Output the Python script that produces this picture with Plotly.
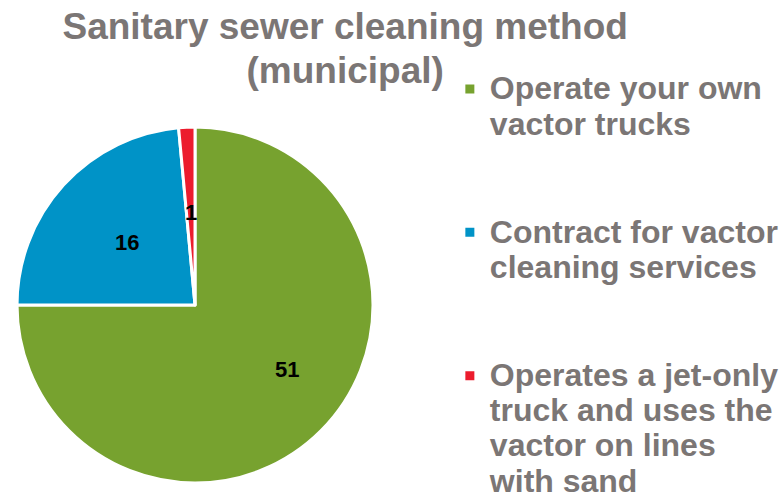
import math
import plotly.graph_objects as go

title_lines = ["Sanitary sewer cleaning method", "(municipal)"]
categories = [
    ["Operate your own", "vactor trucks"],
    ["Contract for vactor", "cleaning services"],
    ["Operates a jet-only", "truck and uses the", "vactor on lines", "with sand"],
]
values = [51, 16, 1]
colors = ["#77A22F", "#0093C7", "#EC1C2D"]
text_gray = "#7B7675"

W, H = 781, 499
dom_x = [0.0218, 0.4776]
dom_y = [0.028, 0.7495]


def span_lines(lines, size, extra_blank=0):
    out = ['<span style="font-size:%dpx">%s</span>' % (size, l) for l in lines]
    out += [" "] * extra_blank
    return "<br>".join(out)


labels = [span_lines(c, 32, 2 if i < 2 else 0) for i, c in enumerate(categories)]

fig = go.Figure(
    go.Pie(
        labels=labels,
        values=values,
        marker=dict(colors=colors, line=dict(color="white", width=3)),
        sort=False,
        direction="clockwise",
        rotation=0,
        textinfo="none",
        domain=dict(x=dom_x, y=dom_y),
        hoverinfo="label+value",
    )
)

# value labels placed inside each slice, at an angle derived from the values
cx = (dom_x[0] + dom_x[1]) / 2 * W
cy = (dom_y[0] + dom_y[1]) / 2 * H
R = min((dom_x[1] - dom_x[0]) * W, (dom_y[1] - dom_y[0]) * H) / 2
total = sum(values)
cum = 0
label_r = [0.63, 0.52, 0.52]
label_shift_deg = [-10, 0, 0]
for v, fr, sh in zip(values, label_r, label_shift_deg):
    mid = (cum + v / 2) / total * 2 * math.pi + math.radians(sh)
    cum += v
    px = cx + fr * R * math.sin(mid)
    py = cy + fr * R * math.cos(mid)
    fig.add_annotation(
        x=px / W, y=py / H, xref="paper", yref="paper",
        xanchor="center", yanchor="middle",
        text="<b>%d</b>" % v, showarrow=False,
        font=dict(family="Liberation Sans, Arial, sans-serif", size=22, color="black"),
    )

fig.update_layout(
    width=W,
    height=H,
    margin=dict(l=0, r=0, t=0, b=0, autoexpand=False),
    paper_bgcolor="white",
    plot_bgcolor="white",
    showlegend=True,
    title=dict(
        text=span_lines(title_lines, 37),
        x=0.442,
        xanchor="center",
        y=0.922,
        yanchor="top",
        font=dict(family="Liberation Sans, Arial, sans-serif",
                  size=34, color=text_gray, weight="bold"),
    ),
    legend=dict(
        x=0.576,
        xanchor="left",
        y=0.87,
        yanchor="top",
        valign="top",
        font=dict(family="Liberation Sans, Arial, sans-serif", size=27, color=text_gray, weight="bold"),
        bgcolor="rgba(0,0,0,0)",
    ),
)

fig.write_html("out.html", config={"displayModeBar": False},
               post_script="document.body.style.margin='0';")
